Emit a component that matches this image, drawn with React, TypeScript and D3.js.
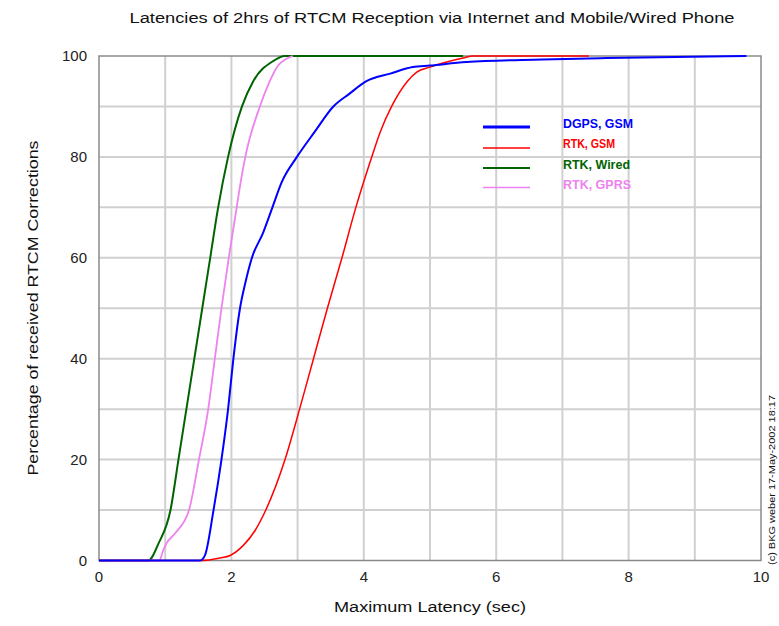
import React, { useEffect } from "react";
import * as d3 from "d3";

const xTicks = [0, 2, 4, 6, 8, 10];
const yTicks = [0, 20, 40, 60, 80, 100];
const xGrid = [1, 2, 3, 4, 5, 6, 7, 8, 9];
const yGrid = [10, 20, 30, 40, 50, 60, 70, 80, 90];

const wiredX = [0, 0.745, 0.9, 1.08, 1.2, 1.32, 1.44, 1.56, 1.68, 1.8, 1.95, 2.16, 2.33, 2.63, 2.81, 3.84, 5.5];
const wiredY = [0, 0, 3.4, 10, 20, 30, 40, 50, 60, 70, 80, 90, 95, 99, 100, 100, 100];

const gprsX = [0, 0.91, 0.97, 1.02, 1.15, 1.36, 1.51, 1.65, 1.75, 1.85, 1.96, 2.08, 2.14, 2.21, 2.43, 2.58, 2.7, 2.84, 2.93];
const gprsY = [0, 0, 2, 3.4, 5.4, 10, 20, 30, 40, 50, 60, 70, 75, 80, 90, 95, 98, 99.5, 100];

const rtkGsmX = [0, 1.53, 1.83, 1.98, 2.18, 2.36, 2.52, 2.81, 3.03, 3.24, 3.45, 3.67, 3.88, 4.12, 4.25, 4.42, 4.66, 4.8, 5.0, 5.5, 5.65, 7.4];
const rtkGsmY = [0, 0, 0.5, 1, 3, 6, 10, 20, 30, 40, 50, 60, 70, 80, 85, 90, 95, 96.8, 97.8, 99.6, 100, 100];

const dgpsX = [0, 1.53, 1.6, 1.73, 1.85, 1.95, 2.03, 2.13, 2.21, 2.31, 2.48, 2.62, 2.76, 2.99, 3.26, 3.54, 3.78, 4.04, 4.4, 4.74, 5.0, 5.55, 6.7, 7.67, 9.78];
const dgpsY = [0, 0, 1, 10, 20, 30, 40, 50, 55, 60, 65, 70, 75, 80, 85, 90, 92.5, 95, 96.5, 97.8, 98.1, 98.8, 99.3, 99.6, 100];

const seriesNames = ["DGPS, GSM", "RTK, GSM", "RTK, Wired", "RTK, GPRS"];
const seriesColors = ["#0000ff", "#ff0000", "#006400", "#ee82ee"];
const seriesWidths = [2, 1.5, 2, 1.8];
const legendWidths = [3, 1.5, 2, 1.5];

const W = 779;
const H = 626;
const M = { left: 99, right: 761, top: 56, bottom: 560.5 };

export default function App() {
  useEffect(() => {
    document.body.style.margin = "0";
  }, []);

  const x = d3.scaleLinear().domain([0, 10]).range([M.left, M.right]);
  const y = d3.scaleLinear().domain([0, 100]).range([M.bottom, M.top]);
  const line = d3
    .line<[number, number]>()
    .x((d) => x(d[0]))
    .y((d) => y(d[1]))
    .curve(d3.curveMonotoneX);

  const zip = (xs: number[], ys: number[]) => xs.map((v, i) => [v, ys[i]] as [number, number]);
  const series = [
    { name: seriesNames[2], data: zip(wiredX, wiredY), color: seriesColors[2], w: seriesWidths[2] },
    { name: seriesNames[3], data: zip(gprsX, gprsY), color: seriesColors[3], w: seriesWidths[3] },
    { name: seriesNames[1], data: zip(rtkGsmX, rtkGsmY), color: seriesColors[1], w: seriesWidths[1] },
    { name: seriesNames[0], data: zip(dgpsX, dgpsY), color: seriesColors[0], w: seriesWidths[0] },
  ];

  const font = "'Liberation Sans', 'DejaVu Sans', sans-serif";

  return (
    <svg width={W} height={H} style={{ display: "block", background: "#fff" }} fontFamily={font}>
      <text x={432} y={23} fontSize={14} textAnchor="middle" fill="#111" textLength={605} lengthAdjust="spacingAndGlyphs">
        Latencies of 2hrs of RTCM Reception via Internet and Mobile/Wired Phone
      </text>
      {xGrid.map((v) => (
        <line key={"gx" + v} x1={x(v)} x2={x(v)} y1={y(0)} y2={y(100)} stroke="#d0d0d0" strokeWidth={2} />
      ))}
      {yGrid.map((v) => (
        <line key={"gy" + v} x1={x(0)} x2={x(10)} y1={y(v)} y2={y(v)} stroke="#d0d0d0" strokeWidth={2} />
      ))}
      <rect x={x(0)} y={y(100)} width={x(10) - x(0)} height={y(0) - y(100)} fill="none" stroke="#8a8a8a" strokeWidth={1.5} />
      {series.map((s) => (
        <path key={s.name} d={line(s.data) || ""} fill="none" stroke={s.color} strokeWidth={s.w} strokeLinejoin="round" />
      ))}
      {xTicks.map((v) => (
        <text key={"tx" + v} x={x(v)} y={582} fontSize={15} textAnchor="middle" fill="#222">
          {v}
        </text>
      ))}
      {yTicks.map((v) => (
        <text key={"ty" + v} x={87} y={y(v) + 5} fontSize={15} textAnchor="end" fill="#222">
          {v}
        </text>
      ))}
      <text x={430} y={612} fontSize={14} textAnchor="middle" fill="#111" textLength={192} lengthAdjust="spacingAndGlyphs">
        Maximum Latency (sec)
      </text>
      <text
        transform={`translate(38,${308}) rotate(-90)`}
        fontSize={14}
        textAnchor="middle"
        fill="#111"
        textLength={335}
        lengthAdjust="spacingAndGlyphs"
      >
        Percentage of received RTCM Corrections
      </text>
      <text
        transform={`translate(775,${480}) rotate(-90)`}
        fontSize={9}
        textAnchor="middle"
        fill="#111"
        textLength={170}
        lengthAdjust="spacingAndGlyphs"
      >
        (c) BKG weber 17-May-2002 18:17
      </text>
      {seriesNames.map((n, i) => {
        const ly = [127, 148, 168, 187.5][i];
        return (
          <g key={"lg" + n}>
            <line x1={483} x2={530} y1={ly} y2={ly} stroke={seriesColors[i]} strokeWidth={legendWidths[i]} />
            <text x={563} y={[127.5, 148, 169, 188.5][i]} fontSize={12} fontWeight="bold" fill={seriesColors[i]} textLength={[70, 52, 67, 68][i]} lengthAdjust="spacingAndGlyphs">
              {n}
            </text>
          </g>
        );
      })}
    </svg>
  );
}
